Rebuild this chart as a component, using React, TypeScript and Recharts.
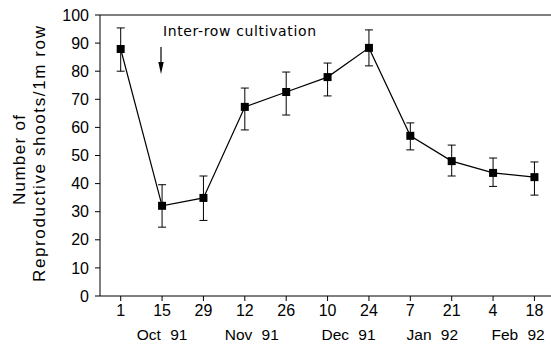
import React from 'react';
import { ComposedChart, Line, XAxis, YAxis, ErrorBar, ReferenceLine } from 'recharts';

// sampling dates (day of month) and month captions under the axis
const days = ['1', '15', '29', '12', '26', '10', '24', '7', '21', '4', '18'];
const monthLabels = ['', 'Oct 91', '', 'Nov 91', '', 'Dec 91', '', 'Jan 92', '', 'Feb 92', ''];

// reproductive shoots per 1 m row, with lower / upper ends of the error bars
const shoots = [87.9, 32.1, 34.9, 67.3, 72.6, 77.9, 88.3, 57.0, 48.0, 43.8, 42.3];
const lower = [80.0, 24.5, 26.9, 59.1, 64.4, 71.2, 81.9, 52.0, 42.7, 39.0, 35.9];
const upper = [95.4, 39.6, 42.7, 74.0, 79.7, 82.9, 94.7, 61.6, 53.7, 49.1, 47.7];

const yTicks = [0, 10, 20, 30, 40, 50, 60, 70, 80, 90, 100];

const data = days.map((d, i) => ({
  idx: i,
  value: shoots[i],
  err: [shoots[i] - lower[i], upper[i] - shoots[i]],
}));

const FONT = '"Liberation Sans", Arial, sans-serif';

const monthShift: Record<number, number> = { 1: 0, 3: 7, 5: 21, 7: 22, 9: 25 };

const DateTick = (props: any) => {
  const { x, y, payload } = props;
  const i = payload.value as number;
  return (
    <g>
      <text x={x} y={y + 15} textAnchor="middle" fontFamily={FONT} fontSize={16} fill="#000">
        {days[i]}
      </text>
      {monthLabels[i] && (
        <text x={x + (monthShift[i] || 0)} y={y + 39} textAnchor="middle" fontFamily={FONT} fontSize={15.5} fill="#000" wordSpacing={5}>
          {monthLabels[i]}
        </text>
      )}
    </g>
  );
};

const SquareDot = (props: any) => {
  const { cx, cy } = props;
  if (cx == null || cy == null) return null;
  return <rect x={cx - 4} y={cy - 4} width={8} height={8} fill="#000" />;
};

export default function App() {
  return (
    <div style={{ position: 'absolute', left: 0, top: 0, width: 551, height: 344, background: '#fff' }}>
      <ComposedChart width={551} height={344} data={data} margin={{ top: 15, right: 0, bottom: 0, left: 60 }}>
        <XAxis
          dataKey="idx"
          type="number"
          domain={[-0.5, 10.4]}
          ticks={[0, 1, 2, 3, 4, 5, 6, 7, 8, 9, 10]}
          allowDataOverflow
          height={48}
          tickSize={5}
          tickMargin={0}
          stroke="#000"
          tick={<DateTick />}
        />
        <YAxis
          domain={[0, 100]}
          ticks={yTicks}
          width={40}
          tickSize={5}
          tickMargin={6}
          stroke="#000"
          tick={{ fill: '#000', fontSize: 16, fontFamily: FONT }}
        />
        <ReferenceLine y={100} stroke="#000" strokeWidth={1} />
        <Line
          dataKey="value"
          stroke="#000"
          strokeWidth={1.2}
          dot={<SquareDot />}
          activeDot={false}
          isAnimationActive={false}
        >
          <ErrorBar dataKey="err" direction="y" width={4} stroke="#000" strokeWidth={1} isAnimationActive={false} />
        </Line>
      </ComposedChart>
      <svg width={551} height={344} style={{ position: 'absolute', left: 0, top: 0, pointerEvents: 'none' }}>
        <text transform="translate(25,160) rotate(-90)" textAnchor="middle" fontFamily={FONT} fontSize={17} fill="#000" textLength={90} lengthAdjust="spacing">
          Number of
        </text>
        <text transform="translate(45,154) rotate(-90)" textAnchor="middle" fontFamily={FONT} fontSize={17} fill="#000" textLength={256} lengthAdjust="spacing">
          Reproductive shoots/1m row
        </text>
        <text x={163} y={36} fontFamily='"DejaVu Sans", sans-serif' fontSize={14} fill="#000" textLength={153} lengthAdjust="spacing">
          Inter-row cultivation
        </text>
        <line x1={161} y1={47} x2={161} y2={64} stroke="#000" strokeWidth={1.2} />
        <path d="M158.3,62 L163.7,62 L161,74 Z" fill="#000" />
      </svg>
    </div>
  );
}
